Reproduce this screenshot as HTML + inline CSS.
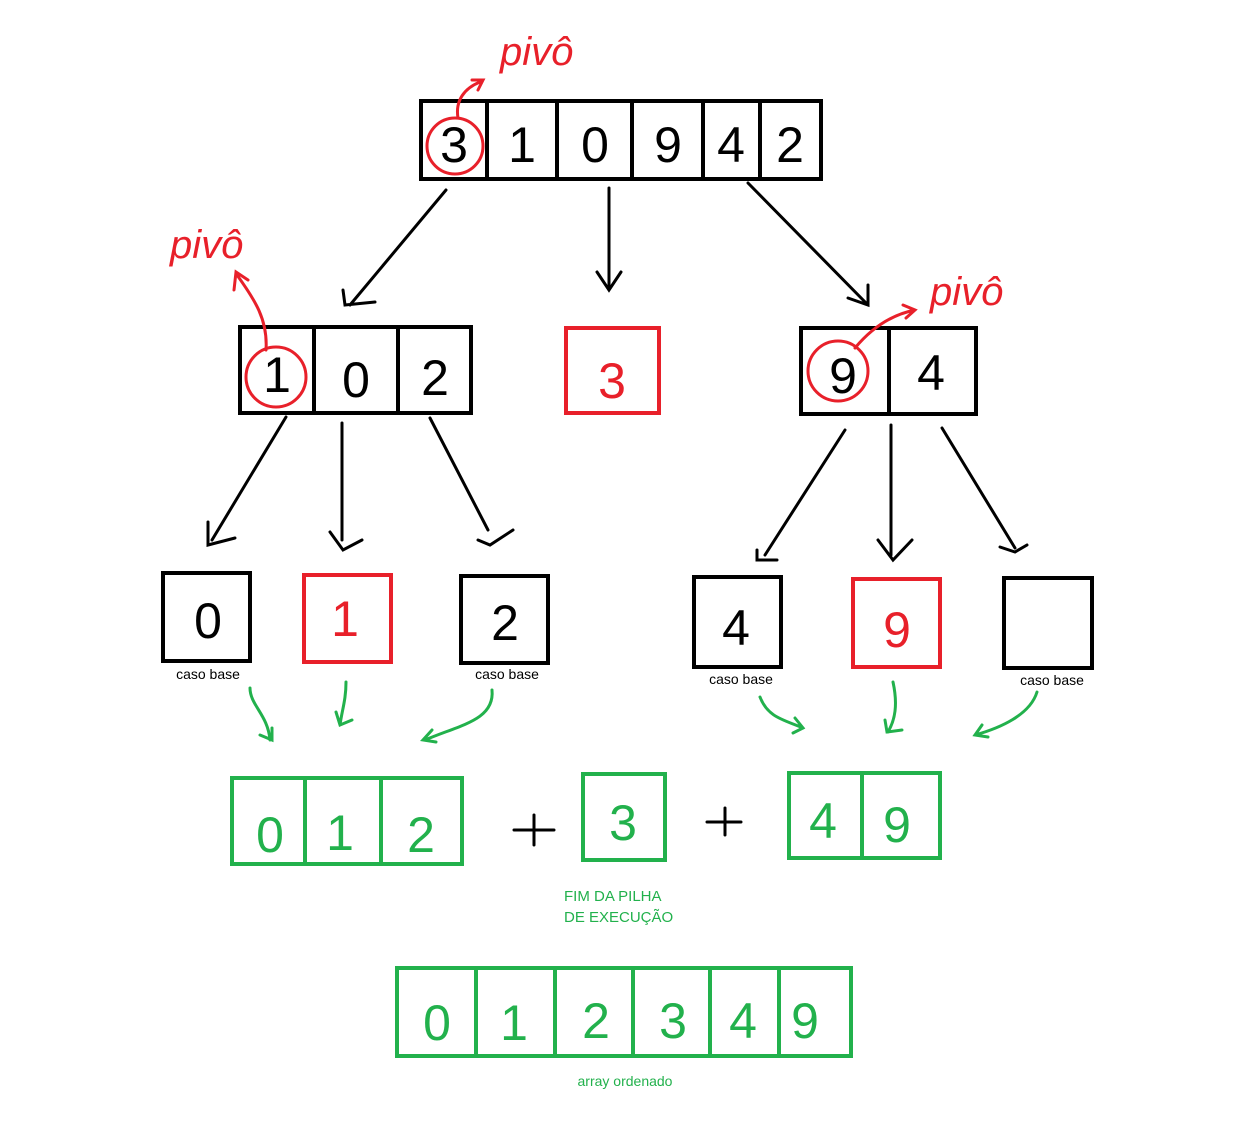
<!DOCTYPE html>
<html><head><meta charset="utf-8"><style>
html,body{margin:0;padding:0;background:#fff}
svg{display:block}
.k{stroke:#000;stroke-width:4;fill:none}
.r{stroke:#e8202a;stroke-width:4;fill:none}
.g{stroke:#22b14c;stroke-width:4;fill:none}
.a{stroke-width:3;fill:none;stroke-linecap:round}
text{font-family:"Liberation Sans",sans-serif}
.d{font-size:50px;text-anchor:middle;font-weight:normal}
</style></head><body>
<svg width="1236" height="1140" viewBox="0 0 1236 1140">
<!-- top array -->
<rect class="k" x="421" y="101" width="400" height="78"/>
<path class="k" d="M487 101V179M557 101V179M632 101V179M703 101V179M760 101V179"/>
<g class="d" fill="#000">
<text x="454" y="162">3</text><text x="522" y="162">1</text><text x="595" y="162">0</text><text x="668" y="162">9</text><text x="731" y="162">4</text><text x="790" y="162">2</text></g>
<ellipse class="r" cx="455" cy="146" rx="28" ry="28" style="stroke-width:3"/>
<path class="r a" d="M458 118C455 100 465 88 480 82M472 80L483 80L478 90"/>
<text x="500" y="65" fill="#e8202a" font-size="40" font-style="italic">pivô</text>

<!-- arrows from top -->
<path class="k a" d="M446 190L350 305M343 290L345 305L375 302"/>
<path class="k a" d="M609 188V288M597 272L609 290L621 272"/>
<path class="k a" d="M748 183L868 305M848 298L868 305L868 285"/>

<!-- left array -->
<rect class="k" x="240" y="327" width="231" height="86"/>
<path class="k" d="M314 327V413M398 327V413"/>
<g class="d" fill="#000"><text x="277" y="392">1</text><text x="356" y="397">0</text><text x="435" y="395">2</text></g>
<ellipse class="r" cx="276" cy="377" rx="30" ry="30" style="stroke-width:3"/>
<path class="r a" d="M266 350C268 320 255 300 237 275M234 290L236 272L248 280"/>
<text x="170" y="258" fill="#e8202a" font-size="40" font-style="italic">pivô</text>

<!-- middle red -->
<rect class="r" x="566" y="328" width="93" height="85"/>
<text class="d" x="612" y="398" fill="#e8202a">3</text>

<!-- right array -->
<rect class="k" x="801" y="328" width="175" height="86"/>
<path class="k" d="M889 328V414"/>
<g class="d" fill="#000"><text x="843" y="393">9</text><text x="931" y="390">4</text></g>
<ellipse class="r" cx="838" cy="371" rx="30" ry="30" style="stroke-width:3"/>
<path class="r a" d="M855 348C870 330 890 315 915 310M903 305L915 310L906 318"/>
<text x="930" y="305" fill="#e8202a" font-size="40" font-style="italic">pivô</text>

<!-- arrows level 2 -->
<path class="k a" d="M286 417L212 540M208 522L208 545L235 538"/>
<path class="k a" d="M342 423V540M330 532L343 550L362 540"/>
<path class="k a" d="M430 418L488 530M478 540L490 545L513 530"/>
<path class="k a" d="M845 430L765 555M757 550L757 560L777 560"/>
<path class="k a" d="M891 425V555M878 540L893 560L912 540"/>
<path class="k a" d="M942 428L1015 548M1000 547L1015 552L1027 545"/>

<!-- row 3 boxes -->
<rect class="k" x="163" y="573" width="87" height="88"/>
<text class="d" x="208" y="638" fill="#000">0</text>
<rect class="r" x="304" y="575" width="87" height="87"/>
<text class="d" x="345" y="636" fill="#e8202a">1</text>
<rect class="k" x="461" y="576" width="87" height="87"/>
<text class="d" x="505" y="640" fill="#000">2</text>
<rect class="k" x="694" y="577" width="87" height="90"/>
<text class="d" x="736" y="645" fill="#000">4</text>
<rect class="r" x="853" y="579" width="87" height="88"/>
<text class="d" x="897" y="647" fill="#e8202a">9</text>
<rect class="k" x="1004" y="578" width="88" height="90"/>
<g font-size="14" fill="#000" text-anchor="middle">
<text x="208" y="679">caso base</text><text x="507" y="679">caso base</text><text x="741" y="684">caso base</text><text x="1052" y="685">caso base</text></g>

<!-- green arrows -->
<g class="g a" style="stroke-width:3">
<path d="M250 688C250 705 268 715 270 740M260 735L272 740L272 728"/>
<path d="M346 682C346 700 342 710 340 725M336 712L340 725L352 720"/>
<path d="M492 690C495 720 460 725 425 740M432 730L423 740L436 742"/>
<path d="M760 697C768 718 785 720 803 728M795 718L803 728L793 733"/>
<path d="M893 682C898 705 895 720 888 732M885 720L887 732L902 730"/>
<path d="M1037 692C1030 715 1000 728 975 735M982 725L975 735L988 737"/>
</g>

<!-- green row -->
<rect class="g" x="232" y="778" width="230" height="86"/>
<path class="g" d="M305 778V864M381 778V864"/>
<g class="d" fill="#22b14c"><text x="270" y="852">0</text><text x="340" y="850">1</text><text x="421" y="852">2</text></g>
<path class="k a" d="M514 830H554M534 815V845"/>
<rect class="g" x="583" y="774" width="82" height="86"/>
<text class="d" x="623" y="840" fill="#22b14c">3</text>
<path class="k a" d="M707 822H741M725 808V835"/>
<rect class="g" x="789" y="773" width="151" height="85"/>
<path class="g" d="M862 773V858"/>
<g class="d" fill="#22b14c"><text x="823" y="838">4</text><text x="897" y="842">9</text></g>
<g font-size="15" fill="#22b14c"><text x="564" y="901">FIM DA PILHA</text><text x="564" y="922">DE EXECUÇÃO</text></g>

<!-- final -->
<rect class="g" x="397" y="968" width="454" height="88"/>
<path class="g" d="M476 968V1056M555 968V1056M633 968V1056M710 968V1056M779 968V1056"/>
<g class="d" fill="#22b14c"><text x="437" y="1040">0</text><text x="514" y="1040">1</text><text x="596" y="1038">2</text><text x="673" y="1038">3</text><text x="743" y="1038">4</text><text x="805" y="1038">9</text></g>
<text x="625" y="1086" font-size="14" fill="#22b14c" text-anchor="middle">array ordenado</text>
</svg>
</body></html>
